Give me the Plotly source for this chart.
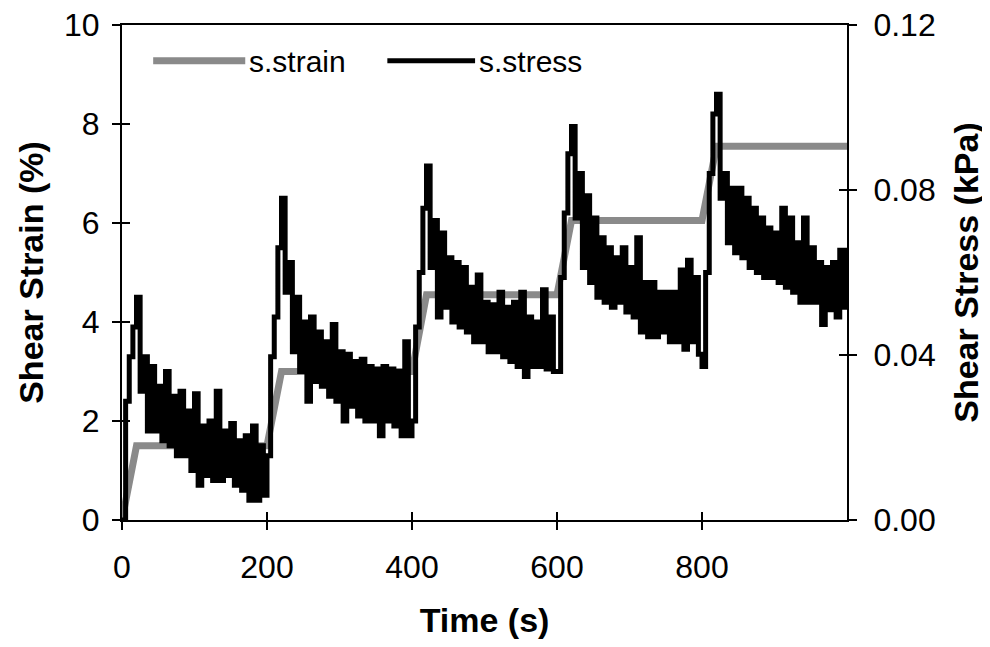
import plotly.graph_objects as go

# ---------------- data ----------------
# sampling times of the stress record (s)
time_s = list(range(0, 1001, 5))

# shear stress (kPa), every 5 s
stress_kpa = [
    # 0 - 195 s
    0.0, 0.0288, 0.0396, 0.0468, 0.054, 0.0312, 0.0396, 0.0216, 0.0372, 0.0216,
    0.0324, 0.0192, 0.036, 0.018, 0.030, 0.0156, 0.0312, 0.0156, 0.0264, 0.012,
    0.0306, 0.0084, 0.0228, 0.0108, 0.024, 0.0096, 0.0312, 0.0096, 0.0216, 0.0108,
    0.0234, 0.0084, 0.0192, 0.0072, 0.0204, 0.0048, 0.0228, 0.0048, 0.018, 0.006,
    # 200 - 395 s
    0.0156, 0.0396, 0.0492, 0.066, 0.078, 0.0552, 0.0624, 0.0408, 0.054, 0.036,
    0.048, 0.0288, 0.0492, 0.0336, 0.0456, 0.0324, 0.0432, 0.030, 0.0474, 0.0288,
    0.0408, 0.024, 0.0402, 0.0276, 0.0384, 0.0252, 0.039, 0.024, 0.0372, 0.024,
    0.0366, 0.0204, 0.0372, 0.024, 0.0366, 0.0228, 0.036, 0.0204, 0.0432, 0.0204,
    # 400 - 595 s
    0.024, 0.0468, 0.060, 0.0756, 0.0858, 0.0612, 0.0726, 0.0492, 0.0696, 0.0516,
    0.0636, 0.048, 0.0624, 0.0468, 0.0612, 0.0456, 0.0564, 0.0432, 0.0594, 0.0432,
    0.0528, 0.0408, 0.0522, 0.0408, 0.0552, 0.0396, 0.0516, 0.0384, 0.0528, 0.0372,
    0.0552, 0.0348, 0.0492, 0.0372, 0.048, 0.0372, 0.0558, 0.0366, 0.0492, 0.036,
    # 600 - 795 s
    0.036, 0.0588, 0.0744, 0.0888, 0.0954, 0.0732, 0.084, 0.0612, 0.0786, 0.0576,
    0.0732, 0.054, 0.0684, 0.0528, 0.066, 0.0516, 0.0636, 0.0528, 0.066, 0.0504,
    0.0612, 0.0492, 0.0684, 0.0456, 0.0576, 0.0444, 0.0576, 0.0444, 0.0552, 0.0456,
    0.0552, 0.0432, 0.0552, 0.0432, 0.0606, 0.0414, 0.063, 0.0432, 0.0588, 0.0402,
    # 800 - 1000 s
    0.0372, 0.060, 0.084, 0.0984, 0.1032, 0.078, 0.084, 0.0672, 0.0804, 0.0648,
    0.0804, 0.0636, 0.078, 0.0612, 0.0756, 0.060, 0.0732, 0.0588, 0.0708, 0.0588,
    0.0696, 0.0576, 0.0756, 0.0564, 0.0732, 0.0552, 0.0672, 0.0528, 0.0732, 0.0528,
    0.066, 0.0528, 0.0624, 0.0474, 0.0612, 0.051, 0.0624, 0.0492, 0.0654, 0.0516,
    0.066,
]

# shear strain (%): staged loading
strain_time_s = [0, 20, 200, 220, 400, 420, 600, 620, 800, 820, 1000]
strain_pct = [0.0, 1.5, 1.5, 3.0, 3.0, 4.55, 4.55, 6.05, 6.05, 7.55, 7.55]

x_ticks = [0, 200, 400, 600, 800]
strain_ticks = [0, 2, 4, 6, 8, 10]
stress_ticks = [0.0, 0.04, 0.08, 0.12]

series_names = ["s.strain", "s.stress"]

# ---------------- style ----------------
GRAY = "#8a8a8a"
BLACK = "#000000"
FONT = "Liberation Sans, Arial, sans-serif"
TICK_FONT = dict(family=FONT, size=32, color="black")
TITLE_FONT = dict(family=FONT, size=34, color="black")

fig = go.Figure()

fig.add_trace(go.Scatter(
    x=strain_time_s, y=strain_pct, mode="lines", name=series_names[0],
    line=dict(color=GRAY, width=7), yaxis="y", xaxis="x", showlegend=False,
))
fig.add_trace(go.Scatter(
    x=time_s, y=stress_kpa, mode="lines", name=series_names[1],
    line=dict(color=BLACK, width=5, shape="hv"), yaxis="y2", xaxis="x",
    showlegend=False,
))
# invisible helpers so that the inner halves of the crossing ticks are drawn
fig.add_trace(go.Scatter(x=[0], y=[0], xaxis="x2", yaxis="y3", mode="markers",
                         marker=dict(opacity=0), hoverinfo="skip", showlegend=False))
fig.add_trace(go.Scatter(x=[0], y=[0], xaxis="x2", yaxis="y4", mode="markers",
                         marker=dict(opacity=0), hoverinfo="skip", showlegend=False))

axis_common = dict(showgrid=False, zeroline=False, linecolor="black", linewidth=2,
                   tickcolor="black", tickwidth=1.5, ticklen=8, automargin=False,
                   ticklabeloverflow="allow")

fig.update_layout(
    width=990, height=647,
    margin=dict(l=114, r=151, t=17, b=135),
    paper_bgcolor="white", plot_bgcolor="white",
    showlegend=False,
    xaxis=dict(**axis_common, range=[0, 1000], tickvals=x_ticks, ticks="outside",
               showline=True, mirror=True, tickfont=TICK_FONT, ticklabelstandoff=10,
               title=dict(text="<b>Time (s)</b>", font=TITLE_FONT, standoff=24)),
    xaxis2=dict(**axis_common, range=[0, 1000], tickvals=x_ticks, ticks="inside",
                overlaying="x", anchor="y", showline=False, showticklabels=False),
    yaxis=dict(**axis_common, range=[0, 10], tickvals=strain_ticks, ticks="outside",
               showline=True, tickfont=TICK_FONT, ticklabelstandoff=6,
               title=dict(text="<b>Shear Strain (%)</b>", font=TITLE_FONT, standoff=10)),
    yaxis3=dict(**axis_common, range=[0, 10], tickvals=strain_ticks, ticks="inside",
                overlaying="y", side="left", anchor="x", showline=False,
                showticklabels=False),
    yaxis2=dict(**axis_common, range=[0, 0.12], tickvals=stress_ticks, tickformat=".2f",
                ticks="outside", overlaying="y", side="right", anchor="x",
                showline=True, tickfont=TICK_FONT, ticklabelstandoff=10,
                title=dict(text="<b>Shear Stress (kPa)</b>", font=TITLE_FONT, standoff=20)),
    yaxis4=dict(**axis_common, range=[0, 0.12], tickvals=stress_ticks, ticks="inside",
                overlaying="y", side="right", anchor="x", showline=False,
                showticklabels=False),
)

# legend drawn inside the plot, top-left, as in the original
legend_items = [
    (series_names[0], GRAY, 7, 0.043, 0.170),
    (series_names[1], BLACK, 5, 0.366, 0.487),
]
for name, color, width, x0, x1 in legend_items:
    fig.add_shape(type="line", xref="paper", yref="paper", x0=x0, x1=x1,
                  y0=0.928, y1=0.928, line=dict(color=color, width=width))
    fig.add_annotation(text=name, xref="paper", yref="paper", x=x1 + 0.003, y=0.926,
                       xanchor="left", yanchor="middle", showarrow=False,
                       font=dict(family=FONT, size=30, color="black"))

fig.write_html("out.html")
